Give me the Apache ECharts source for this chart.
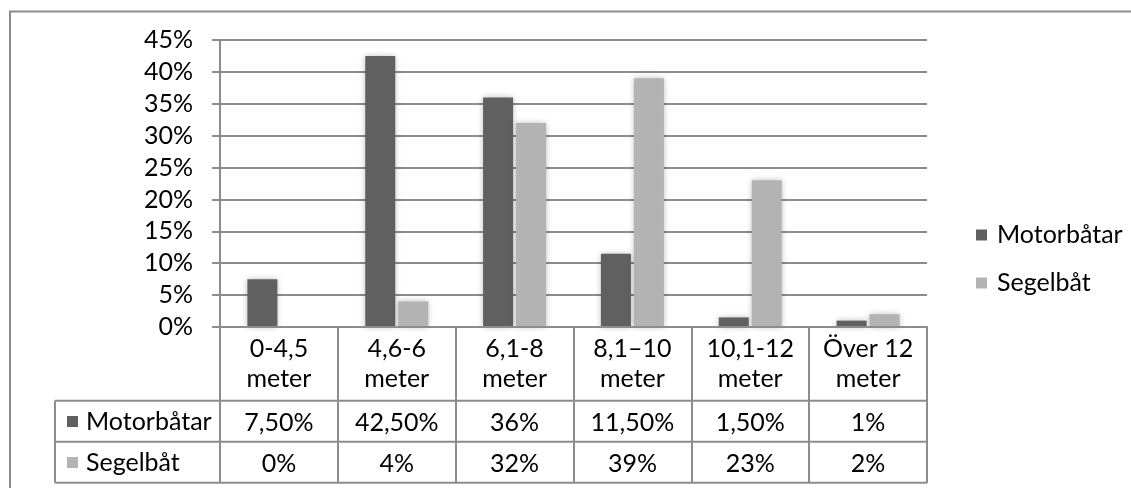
<!DOCTYPE html>
<html><head><meta charset="utf-8">
<script src="https://cdn.jsdelivr.net/npm/echarts@6/dist/echarts.min.js"></script>
<style>html,body{margin:0;padding:0;background:#fff}#c{width:1131px;height:488px}</style>
</head><body><div id="c"></div>
<script>
const categories = ['0-4,5\nmeter', '4,6-6\nmeter', '6,1-8\nmeter', '8,1–10\nmeter', '10,1-12\nmeter', 'Över 12\nmeter'];
const seriesNames = ['Motorbåtar', 'Segelbåt'];
const motorValues = [7.5, 42.5, 36, 11.5, 1.5, 1];
const segelValues = [0, 4, 32, 39, 23, 2];
const colors = ['#606060', '#b3b3b3'];

const FONT = 'Lato';
const FS = 25;
const LINE = '#8c8c8c';
function fmt(v) { return Number.isInteger(v) ? v + '%' : v.toFixed(2).replace('.', ',') + '%'; }

const gridBox = { left: 220, right: 204, top: 40, bottom: 161, outerBoundsMode: 'none' };
const lbl = (margin) => ({ interval: 0, margin: margin, verticalAlign: 'middle', fontFamily: FONT, fontSize: FS, color: '#000', lineHeight: 30 });

const chart = echarts.init(document.getElementById('c'));
chart.setOption({
  animation: false,
  backgroundColor: '#fff',
  grid: [Object.assign({}, gridBox), Object.assign({}, gridBox), Object.assign({}, gridBox)],
  xAxis: [
    { type: 'category', gridIndex: 0, data: categories, z: 5,
      axisLine: { show: true, lineStyle: { color: LINE, width: 2 } },
      axisTick: { show: true, interval: 0, alignWithLabel: false, length: 156, lineStyle: { color: LINE, width: 2 } },
      axisLabel: lbl(37) },
    { type: 'category', gridIndex: 1, data: motorValues.map(fmt),
      axisLine: { show: false }, axisTick: { show: false }, axisLabel: lbl(96) },
    { type: 'category', gridIndex: 2, data: segelValues.map(fmt),
      axisLine: { show: false }, axisTick: { show: false }, axisLabel: lbl(137) }
  ],
  yAxis: [
    { type: 'value', gridIndex: 0, min: 0, max: 45, interval: 5,
      axisLine: { show: true, lineStyle: { color: LINE, width: 2 } },
      axisTick: { show: true, length: 8, lineStyle: { color: LINE, width: 2 } },
      splitLine: { lineStyle: { color: LINE, width: 2 } },
      axisLabel: { margin: 27, formatter: v => v + '%', fontFamily: FONT, fontSize: FS, color: '#000' } },
    { type: 'value', gridIndex: 1, show: false },
    { type: 'value', gridIndex: 2, show: false }
  ],
  legend: {
    orient: 'vertical', left: 971, top: 217, itemWidth: 11, itemHeight: 11, itemGap: 22,
    icon: 'rect',
    textStyle: { fontFamily: FONT, fontSize: FS, color: '#000', lineHeight: 26, padding: [0, 0, 0, 5] },
    data: seriesNames
  },
  series: [
    { name: seriesNames[0], type: 'bar', data: motorValues, barWidth: 30, barGap: '10%',
      itemStyle: { color: colors[0], shadowBlur: 6, shadowColor: 'rgba(0,0,0,0.25)' } },
    { name: seriesNames[1], type: 'bar', data: segelValues, barWidth: 30, barGap: '10%',
      itemStyle: { color: colors[1], shadowBlur: 6, shadowColor: 'rgba(0,0,0,0.25)' } }
  ],
  graphic: [
    { type: 'polyline', shape: { points: [[10, 500], [10, 11.5], [1140, 11.5]] }, style: { stroke: LINE, lineWidth: 2, fill: null } },
    { type: 'line', shape: { x1: 55, y1: 400.7, x2: 927, y2: 400.7 }, style: { stroke: LINE, lineWidth: 2 } },
    { type: 'line', shape: { x1: 55, y1: 441.7, x2: 927, y2: 441.7 }, style: { stroke: LINE, lineWidth: 2 } },
    { type: 'line', shape: { x1: 55, y1: 482.7, x2: 927, y2: 482.7 }, style: { stroke: LINE, lineWidth: 2 } },
    { type: 'line', shape: { x1: 55, y1: 400.7, x2: 55, y2: 482.7 }, style: { stroke: LINE, lineWidth: 2 } },
    { type: 'rect', shape: { x: 67, y: 416, width: 11, height: 11 }, style: { fill: colors[0] } },
    { type: 'text', x: 86, y: 421.5, style: { text: seriesNames[0], fontFamily: FONT, fontSize: FS, fill: '#000', verticalAlign: 'middle' } },
    { type: 'rect', shape: { x: 67, y: 457, width: 11, height: 11 }, style: { fill: colors[1] } },
    { type: 'text', x: 86, y: 462.5, style: { text: seriesNames[1], fontFamily: FONT, fontSize: FS, fill: '#000', verticalAlign: 'middle' } }
  ]
});
</script></body></html>
